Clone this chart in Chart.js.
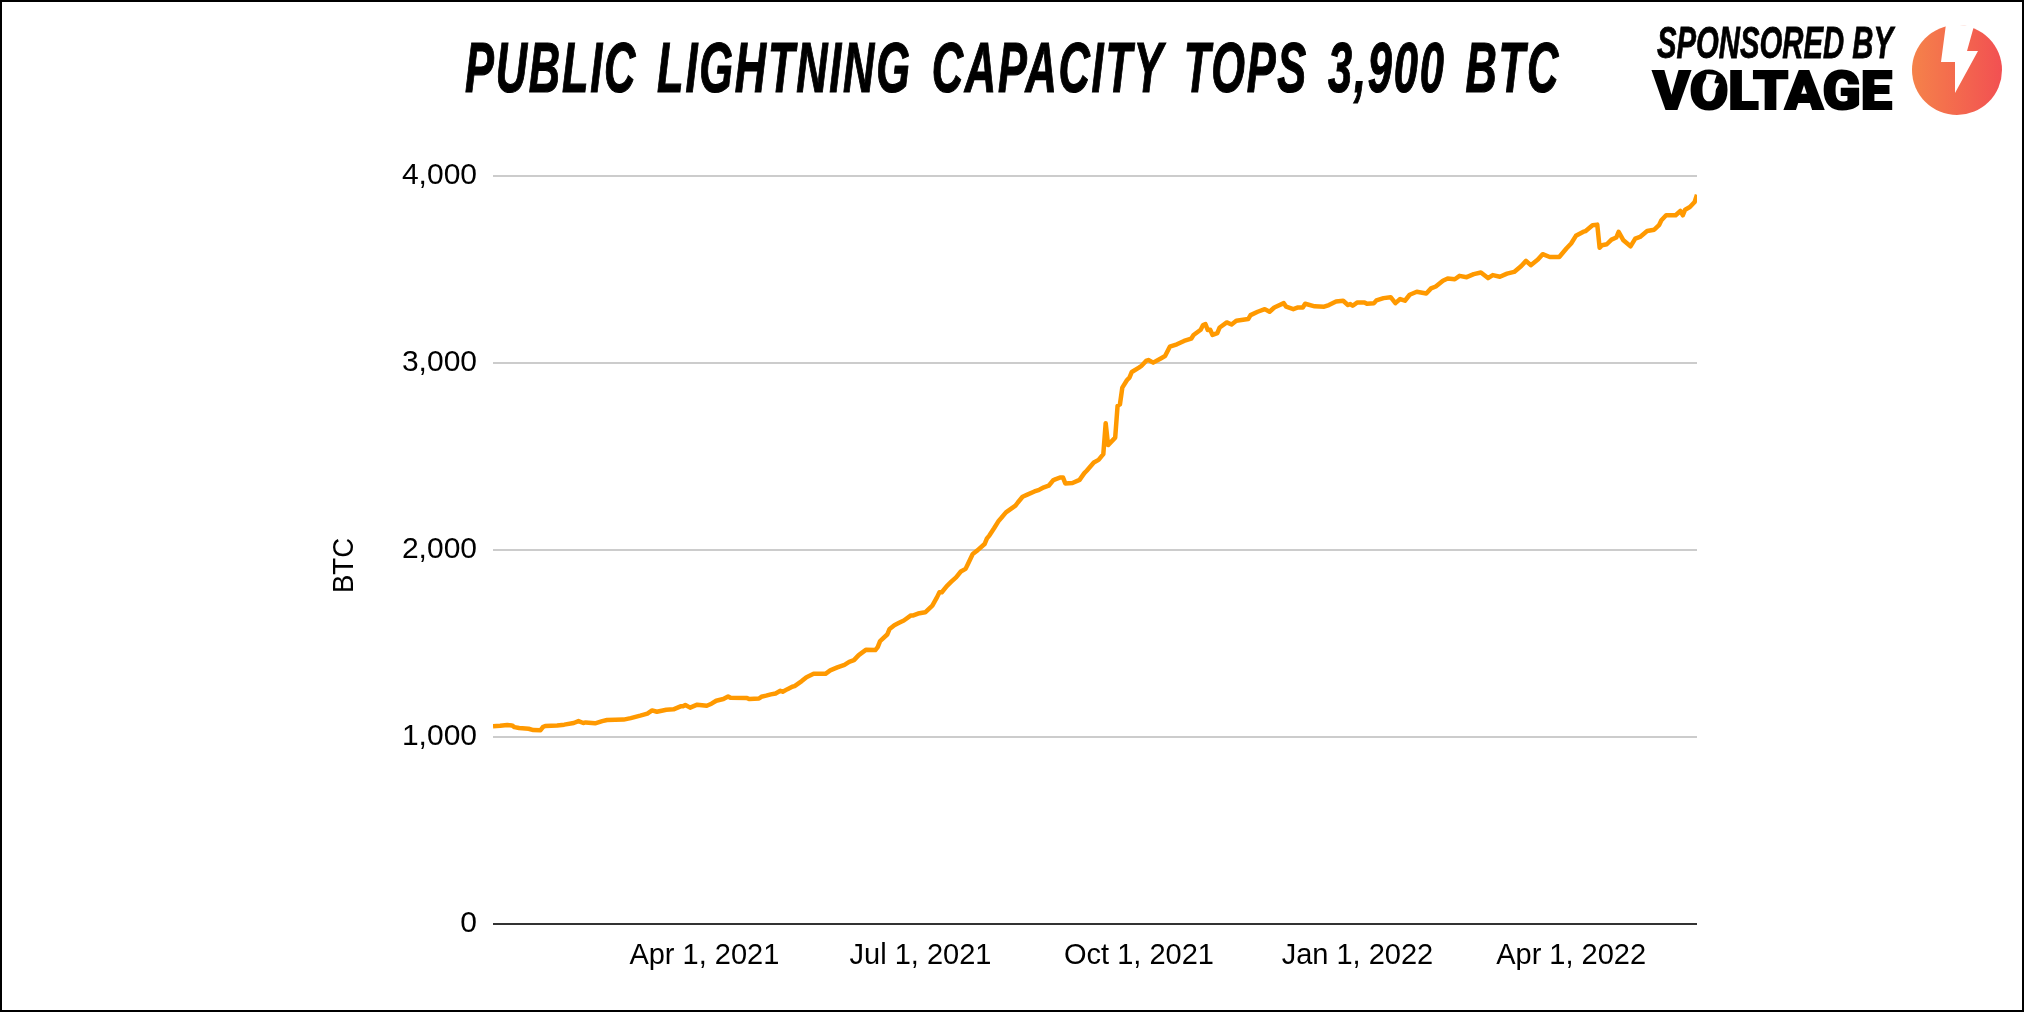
<!DOCTYPE html>
<html><head><meta charset="utf-8">
<script src="https://cdn.jsdelivr.net/npm/chart.js@4"></script>
<style>
html,body{margin:0;padding:0;background:#fff;width:2024px;height:1012px;overflow:hidden}
#frame{position:absolute;left:0;top:0;width:2020px;height:1008px;border:2px solid #000;z-index:3;pointer-events:none}
#c{position:absolute;left:0;top:0}
#head{position:absolute;left:0;top:0;z-index:2}
</style></head><body>
<canvas id="c" width="2024" height="1012" style="width:2024px;height:1012px"></canvas>
<svg id="head" width="2024" height="1012" viewBox="0 0 2024 1012">
  <defs><linearGradient id="g" x1="0" x2="1" y1="0" y2="0"><stop offset="0" stop-color="#F5824A"/><stop offset="1" stop-color="#F25052"/></linearGradient></defs>
  <text x="465" y="92" textLength="1095" lengthAdjust="spacingAndGlyphs" font-family="Liberation Sans" font-weight="700" font-style="italic" font-size="71" letter-spacing="3" word-spacing="10" stroke="#000" stroke-width="1.2" fill="#000">PUBLIC LIGHTNING CAPACITY TOPS 3,900 BTC</text>
  <text x="1657" y="58" textLength="236" lengthAdjust="spacingAndGlyphs" font-family="Liberation Sans" font-weight="700" font-style="italic" font-size="45" stroke="#000" stroke-width="0.8" fill="#000">SPONSORED BY</text>
  <text x="1653" y="109" textLength="239" lengthAdjust="spacingAndGlyphs" font-family="Roboto" font-weight="900" font-size="53" stroke="#000" stroke-width="2" fill="#000">VOLTAGE</text>
  <polygon points="1706.7,74 1704,87.3 1710,87.3 1710,100 1719.3,83.3 1714,83.3 1716.7,75" fill="#fff"/>
  <circle cx="1957" cy="70" r="45" fill="url(#g)"/>
  <polygon points="1946,24 1941,62 1955,62 1955,93 1978,51 1967,51 1974,26" fill="#fff"/>
  <text transform="translate(352.7,593) rotate(-90)" textLength="55" lengthAdjust="spacingAndGlyphs" font-family="Liberation Sans" font-size="30" fill="#000">BTC</text>
</svg>
<div id="frame"></div>
<script>
const days = [0,3,6,8,9,11,15,17,20,21,22,27,30,34,36,38,39,43,46,48,55,58,62,65,67,69,73,76,79,80,81,83,86,90,92,94,97,99,100,107,108,112,113,115,117,119,121,122,124,126,127,130,132,135,140,142,145,148,150,152,154,157,161,162,163,166,167,169,
171,173,176,177,179,182,185,187,188,189,191,193,195,197,199,200,202,204,207,208,209,211,213,214,216,220,221,223,225,228,230,232,234,236,237,239,240,241,244,247,249,250,253,255,257,258,259,262,263,264,265,267,268,269,272,273,275,276,278,281,283,285,288,291,294,
295,298,299,300,301,302,303,305,306,309,311,313,318,319,322,325,327,329,333,334,337,339,341,342,346,350,352,355,358,360,361,362,364,367,368,371,372,375,378,380,382,384,386,389,393,395,397,400,402,405,407,410,413,416,419,421,424,
427,430,433,435,437,440,442,445,449,452,454,456,459,460,463,465,466,467,469,471,473,474,476,479,481,483,486,489,491,492,494,498,500,501,502,504,506,507];
const btc = [1057,1060,1064,1062,1053,1048,1044,1037,1036,1053,1059,1062,1066,1075,1085,1075,1078,1073,1085,1091,1093,1101,1114,1125,1142,1135,1146,1148,1164,1164,1171,1157,1173,1167,1178,1194,1203,1217,1210,1208,1203,1206,1215,1221,1228,1233,1247,1242,1256,1269,1272,1299,1320,1338,1338,1356,1372,1386,1402,1411,1438,1466,1465,1481,1513,1548,1578,1598,
1611,1623,1650,1650,1660,1667,1703,1748,1774,1774,1806,1831,1854,1885,1899,1925,1979,1998,2032,2062,2077,2116,2157,2171,2201,2237,2254,2285,2296,2313,2322,2335,2344,2374,2379,2388,2388,2356,2358,2375,2411,2424,2468,2482,2513,2678,2561,2601,2771,2779,2868,2909,2922,2952,2975,2984,3011,3016,3002,3023,3037,3087,3100,3118,3130,
3150,3178,3203,3208,3176,3178,3150,3160,3190,3217,3206,3226,3235,3256,3274,3288,3274,3297,3320,3301,3288,3297,3297,3317,3303,3301,3310,3329,3333,3310,3315,3306,3324,3324,3317,3320,3335,3347,3352,3320,3342,3333,3365,3381,3372,3399,3409,3440,3452,3448,3466,3459,3475,3484,3454,3470,3461,
3478,3487,3519,3546,3523,3553,3582,3567,3567,3612,3639,3680,3701,3705,3737,3740,3616,3630,3635,3660,3671,3701,3656,3624,3665,3674,3706,3713,3737,3763,3790,3790,3813,3790,3820,3834,3861,3900];
const tickDays = [89,180,272,364,454];
const tickLabels = ["Apr 1, 2021","Jul 1, 2021","Oct 1, 2021","Jan 1, 2022","Apr 1, 2022"];
const yTicks = [0,1000,2000,3000,4000];
const seriesName = "BTC";

new Chart(document.getElementById('c'), {
  type: 'line',
  data: { datasets: [{ label: seriesName, data: days.map((d,i)=>({x:d,y:btc[i]})),
    borderColor:'#FF9900', borderWidth:4.5, pointRadius:0, tension:0, borderJoinStyle:'round', fill:false }] },
  options: {
    responsive:false, animation:false, devicePixelRatio:1, parsing:false,
    layout:{padding:{left:320,right:327,top:176,bottom:0}},
    plugins:{legend:{display:false},tooltip:{enabled:false},title:{display:false}},
    scales:{
      x:{ type:'linear', min:0, max:507,
        grid:{display:false}, border:{display:false},
        afterBuildTicks:s=>{ s.ticks = tickDays.map(v=>({value:v})); },
        afterFit:s=>{ s.height = 88; },
        ticks:{ autoSkip:false, maxRotation:0, padding:7, color:'#000',
          font:{family:'Liberation Sans',size:29},
          callback:v=>tickLabels[tickDays.indexOf(v)] ?? '' } },
      y:{ min:0, max:4000,
        afterBuildTicks:s=>{ s.ticks = yTicks.map(v=>({value:v})); },
        afterFit:s=>{ s.width = 173; },
        grid:{ color:c=>c.tick && c.tick.value===0 ? '#333333' : '#CCCCCC', lineWidth:2, drawTicks:false },
        border:{display:false},
        ticks:{ padding:16, color:'#000', font:{family:'Liberation Sans',size:30},
          callback:v=>Number(v).toLocaleString('en-US') } }
    }
  }
});
</script>
</body></html>
